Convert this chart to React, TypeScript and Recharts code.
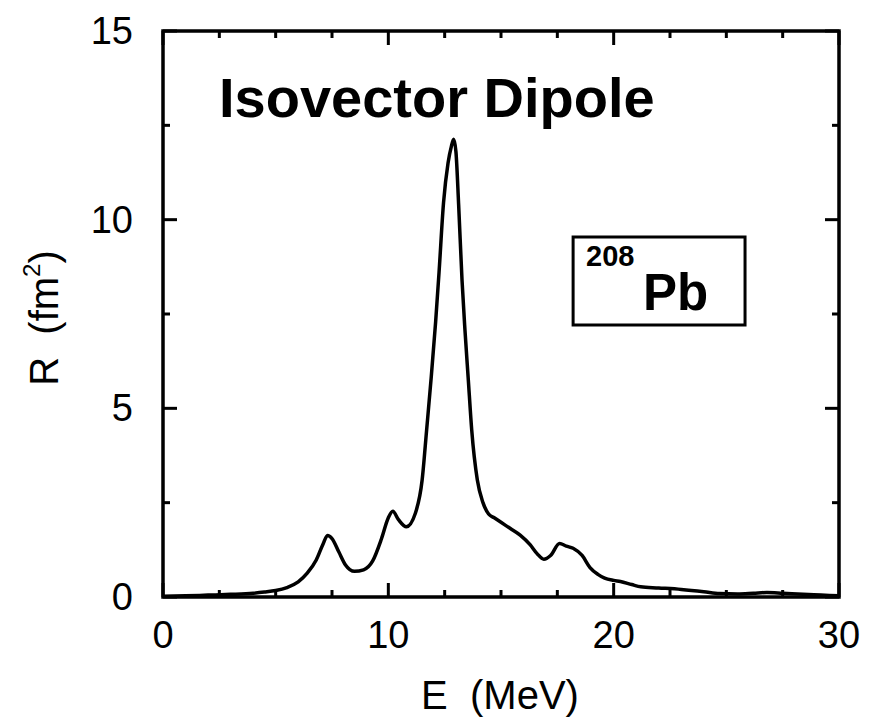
import React from "react";
import { LineChart, Line, XAxis, YAxis, ReferenceArea } from "recharts";

const energies = [0, 1, 2, 3, 4, 4.5, 5, 5.5, 6, 6.4, 6.8, 7.1, 7.3, 7.5, 7.8, 8.1, 8.5, 8.9, 9.3, 9.7, 10.0, 10.2, 10.45, 10.8, 11.2, 11.5, 11.7, 11.9, 12.1, 12.25, 12.45, 12.65, 12.8, 12.9, 13.0, 13.12, 13.27, 13.4, 13.55, 13.7, 13.95, 14.2, 14.45, 14.7, 15.0, 15.4, 15.85, 16.3, 16.6, 16.9, 17.2, 17.6, 17.9, 18.2, 18.6, 18.95, 19.3, 19.6, 20.0, 20.3, 20.8, 21.2, 22, 23, 24, 24.7, 25.5, 26.2, 26.8, 27.5, 28.4, 29.2, 30];
const response = [0.02, 0.03, 0.05, 0.07, 0.1, 0.13, 0.17, 0.25, 0.4, 0.63, 0.98, 1.4, 1.63, 1.55, 1.2, 0.85, 0.68, 0.72, 0.95, 1.55, 2.1, 2.27, 2.05, 1.86, 2.22, 3.1, 4.43, 5.8, 7.3, 8.6, 10.45, 11.5, 11.95, 12.13, 11.8, 10.4, 8.4, 7.08, 5.75, 4.43, 3.1, 2.5, 2.2, 2.1, 1.98, 1.82, 1.64, 1.38, 1.15, 1.0, 1.1, 1.42, 1.35, 1.29, 1.1, 0.78, 0.6, 0.5, 0.44, 0.41, 0.33, 0.27, 0.24, 0.2, 0.14, 0.09, 0.08, 0.1, 0.12, 0.1, 0.07, 0.05, 0.03];

const xTicks = [0, 2.5, 5, 7.5, 10, 12.5, 15, 17.5, 20, 22.5, 25, 27.5, 30];
const yTicks = [0, 2.5, 5, 7.5, 10, 12.5, 15];
const xMajorEvery = 10;
const yMajorEvery = 5;

const titleText = "Isovector Dipole";
const nucleusMass = "208";
const nucleusSymbol = "Pb";
const xLabel = "E  (MeV)";
const yLabelMain = "R  (fm";
const yLabelSup = "2";
const yLabelEnd = ")";

const data = energies.map((e, i) => ({ E: e, R: response[i] }));

const W = 869;
const H = 722;
const LEFT = 163;
const TOP = 31;
const RIGHT = 839;
const BOTTOM = 597;
const PW = RIGHT - LEFT;
const PH = BOTTOM - TOP;
const FONT = "'Liberation Sans', Arial, Helvetica, sans-serif";
const MAJOR = 14;
const MINOR = 7;

const XTick = (props: any) => {
  const { x, y, payload } = props;
  const v = payload.value;
  const major = Math.abs(v % xMajorEvery) < 1e-9;
  const len = major ? MAJOR : MINOR;
  return (
    <g>
      <line x1={x} x2={x} y1={y} y2={y - len} stroke="#000" strokeWidth={3} />
      <line x1={x} x2={x} y1={y - PH} y2={y - PH + len} stroke="#000" strokeWidth={3} />
      {major && (
        <text x={x} y={y + 51} textAnchor="middle" fontFamily={FONT} fontSize={38} fill="#000">
          {v}
        </text>
      )}
    </g>
  );
};

const YTick = (props: any) => {
  const { x, y, payload } = props;
  const v = payload.value;
  const major = Math.abs(v % yMajorEvery) < 1e-9;
  const len = major ? MAJOR : MINOR;
  return (
    <g>
      <line x1={x} x2={x + len} y1={y} y2={y} stroke="#000" strokeWidth={3} />
      <line x1={x + PW} x2={x + PW - len} y1={y} y2={y} stroke="#000" strokeWidth={3} />
      {major && (
        <text x={x - 30} y={y} textAnchor="end" dominantBaseline="central" fontFamily={FONT} fontSize={38} fill="#000">
          {v}
        </text>
      )}
    </g>
  );
};

const BoxLabel = (props: any) => {
  const vb = props.viewBox || {};
  const x0 = vb.x ?? 0;
  const y0 = vb.y ?? 0;
  return (
    <text fontFamily={FONT} fontWeight="bold" fill="#000">
      <tspan x={x0 + 13} y={y0 + 29} fontSize={29}>{nucleusMass}</tspan>
      <tspan x={x0 + 70} y={y0 + 73} fontSize={51}>{nucleusSymbol}</tspan>
    </text>
  );
};

export default function App() {
  return (
    <div style={{ position: "absolute", left: 0, top: 0, width: W, height: H, background: "#fff" }}>
      <LineChart
        width={W}
        height={H}
        data={data}
        margin={{ top: TOP, right: W - RIGHT, bottom: H - BOTTOM - 60, left: 0 }}
      >
        <XAxis
          dataKey="E"
          type="number"
          domain={[0, 30]}
          ticks={xTicks}
          interval={0}
          height={60}
          axisLine={false}
          tickLine={false}
          tickSize={0}
          tickMargin={0}
          tick={<XTick />}
        />
        <YAxis
          type="number"
          domain={[0, 15]}
          ticks={yTicks}
          interval={0}
          width={LEFT}
          axisLine={false}
          tickLine={false}
          tickSize={0}
          tickMargin={0}
          tick={<YTick />}
        />
        <ReferenceArea
          x1={0}
          x2={30}
          y1={0}
          y2={15}
          fill="none"
          fillOpacity={0}
          stroke="#000"
          strokeWidth={3.5}
          isFront
        />
        <ReferenceArea
          x1={18.2}
          x2={25.83}
          y1={7.21}
          y2={9.54}
          fill="#fff"
          fillOpacity={0}
          stroke="#000"
          strokeWidth={3}
          label={<BoxLabel />}
        />
        <Line
          type="monotone"
          dataKey="R"
          stroke="#000"
          strokeWidth={3.5}
          dot={false}
          isAnimationActive={false}
        />
      </LineChart>
      <svg width={W} height={H} style={{ position: "absolute", left: 0, top: 0, pointerEvents: "none" }}>
        <text x={219} y={117} fontFamily={FONT} fontWeight="bold" fontSize={56} fill="#000">
          {titleText}
        </text>
        <text x={500} y={709} textAnchor="middle" fontFamily={FONT} fontSize={40} fill="#000" style={{ whiteSpace: "pre" }}>
          {xLabel}
        </text>
        <text
          transform="translate(58, 318) rotate(-90)"
          textAnchor="middle"
          fontFamily={FONT}
          fontSize={40}
          fill="#000"
          style={{ whiteSpace: "pre" }}
        >
          {yLabelMain}
          <tspan fontSize={24} dy={-18}>{yLabelSup}</tspan>
          <tspan dy={18}>{yLabelEnd}</tspan>
        </text>
      </svg>
    </div>
  );
}
